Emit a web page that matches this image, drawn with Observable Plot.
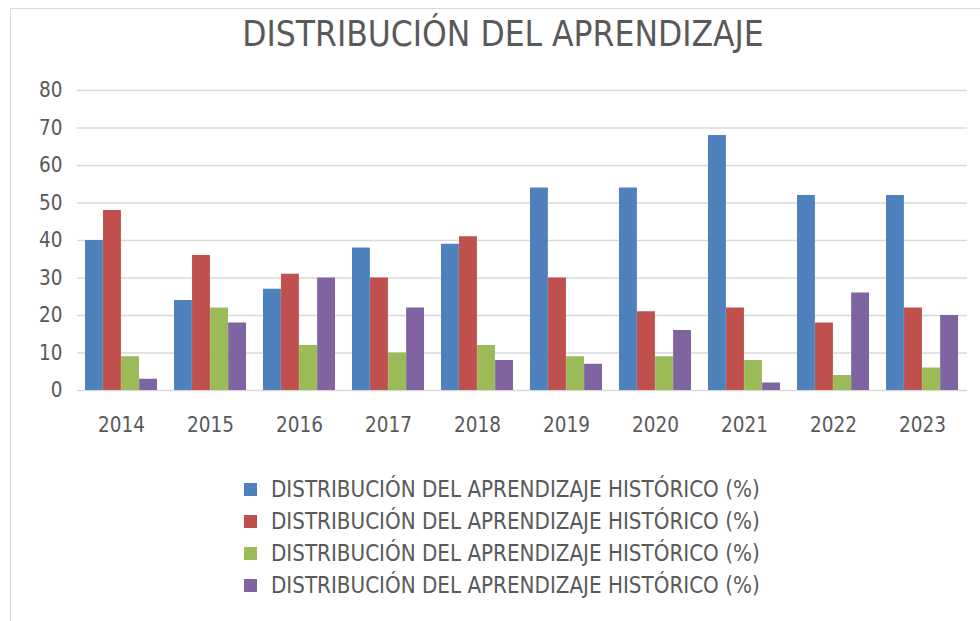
<!DOCTYPE html>
<html><head><meta charset="utf-8">
<script src="https://cdn.jsdelivr.net/npm/d3@7"></script>
<script src="https://cdn.jsdelivr.net/npm/@observablehq/plot@0.6"></script>
<style>
html,body{margin:0;padding:0;background:#fff;}
#wrap{position:relative;width:980px;height:621px;overflow:hidden;font-family:"Liberation Sans Narrow","DejaVu Sans Condensed",sans-serif;color:#595959;}
#frame{position:absolute;left:10px;top:8px;width:990px;height:640px;border-left:1.5px solid #d9d9d9;border-top:1.5px solid #d9d9d9;}
#title{position:absolute;left:0;width:1006px;top:14px;text-align:center;font-size:35px;color:#595959;}
#chart{position:absolute;left:0;top:0;}
#legend{position:absolute;left:244px;top:473px;}
.row{height:32px;display:flex;align-items:center;font-size:22.2px;color:#595959;}
.sw{width:13px;height:13px;margin-right:14px;}
</style></head>
<body><div id="wrap"><div id="frame"></div><div id="title">DISTRIBUCIÓN DEL APRENDIZAJE</div><div id="chart"></div><div id="legend"></div></div>
<script>
const years = ["2014","2015","2016","2017","2018","2019","2020","2021","2022","2023"];
const seriesKeys = ["s1","s2","s3","s4"];
const seriesLabels = ["DISTRIBUCIÓN DEL APRENDIZAJE HISTÓRICO (%)","DISTRIBUCIÓN DEL APRENDIZAJE HISTÓRICO (%)","DISTRIBUCIÓN DEL APRENDIZAJE HISTÓRICO (%)","DISTRIBUCIÓN DEL APRENDIZAJE HISTÓRICO (%)"];
const colors = ["#4f81bd","#c0504d","#9bbb59","#8064a2"];
const s1 = [40,24,27,38,39,54,54,68,52,52];
const s2 = [48,36,31,30,41,30,21,22,18,22];
const s3 = [9,22,12,10,12,9,9,8,4,6];
const s4 = [3,18,30,22,8,7,16,2,26,20];
const yTicks = [0,10,20,30,40,50,60,70,80];

const allSeries = [s1,s2,s3,s4];
const W = 980, ML = 77, MR = 13;
const PI = 0.19, PO = 0.09;
const band = d3.scaleBand().domain(years).range([ML, W - MR]).paddingInner(PI).paddingOuter(PO);
const bw = band.bandwidth();
const sub = bw / seriesKeys.length;

const barMarks = allSeries.map((vals, j) =>
  Plot.barY(years.map((y, i) => ({year: y, key: seriesKeys[j], value: vals[i]})), {
    x: "year", y: "value", fill: "key",
    insetLeft: j * sub, insetRight: (seriesKeys.length - 1 - j) * sub
  })
);

const chart = Plot.plot({
  width: W, height: 440,
  marginTop: 90, marginBottom: 50, marginLeft: ML, marginRight: MR,
  style: {fontFamily: '"Liberation Sans Narrow","DejaVu Sans Condensed",sans-serif', fontSize: "20.5px", color: "#595959", background: "transparent"},
  x: {domain: years, paddingInner: PI, paddingOuter: PO, label: null, tickSize: 0, tickPadding: 27},
  y: {domain: [0, 80], ticks: yTicks, label: null, tickSize: 0, tickPadding: 15},
  color: {domain: seriesKeys, range: colors},
  marks: [
    Plot.ruleY(yTicks, {stroke: "#d9d9d9", strokeWidth: 1.5}),
    ...barMarks
  ]
});
document.getElementById("chart").appendChild(chart);

const leg = document.getElementById("legend");
seriesKeys.forEach((k, i) => {
  const r = document.createElement("div"); r.className = "row";
  const sw = document.createElement("div"); sw.className = "sw"; sw.style.background = colors[i];
  const t = document.createElement("span"); t.textContent = seriesLabels[i];
  r.appendChild(sw); r.appendChild(t); leg.appendChild(r);
});
</script></body></html>
